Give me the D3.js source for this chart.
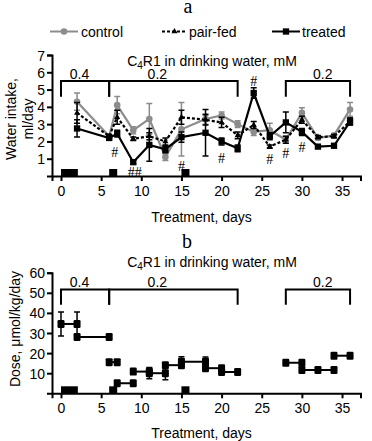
<!DOCTYPE html>
<html>
<head>
<meta charset="utf-8">
<script src="https://cdn.jsdelivr.net/npm/d3@7"></script>
<style>
  body { margin: 0; background: #fff; }
  svg text { font-family: "Liberation Sans", Arial, sans-serif; }
</style>
</head>
<body>
<div id="viz"></div>
<script>
// panel a: water intake
var days = [2, 6, 7, 9, 11, 13, 15, 18, 20, 22, 24, 26, 28, 30, 32, 34, 36];
var control = [4.3, 2.3, 4.1, 2.65, 3.3, 1.1, 2.7, 3.3, 3.5, 3.0, 2.55, 2.65, 2.1, 3.65, 2.2, 2.35, 3.85];
var controlErr = [0.5, 0.1, 0.5, 0.2, 0.9, 0.2, 1.55, 0.3, 0.2, 0.2, 0.2, 0.4, 0.2, 0.3, 0.1, 0.1, 0.4];
var pairFed = [3.65, 2.3, 3.4, 2.15, 2.3, 2.0, 3.4, 3.25, 3.1, 2.35, 2.95, 1.7, 2.1, 3.25, 2.25, 2.3, 3.15];
var pairFedErr = [0.6, 0.1, 0.4, 0.1, 0.2, 0.2, 0.4, 0.3, 0.3, 0.2, 0.2, 0.1, 0.2, 0.2, 0.1, 0.1, 0.2];
var treated = [2.75, 2.2, 2.45, 0.8, 1.8, 1.55, 2.25, 2.5, 2.0, 1.6, 4.8, 2.3, 3.1, 2.55, 1.7, 1.75, 3.15];
var treatedErr = [0.5, 0.1, 0.2, 0.1, 0.95, 0.2, 0.3, 1.35, 0.2, 0.2, 0.3, 0.2, 0.6, 0.2, 0.1, 0.1, 0.2];
var hashDays = [6.7, 9.2, 15, 20, 24, 26, 28, 30];
var hashVals = [1.4, 0.25, 0.6, 1.05, 5.5, 1.0, 1.35, 1.65];
var hashText = ['#', '##', '#', '#', '#', '#', '#', '#'];

// panel b: dose, step segments
var doseFrom = [0, 2, 6, 7, 9, 11, 13, 15, 18, 20, 28, 30, 34];
var doseTo = [2, 6, 7, 9, 11, 13, 15, 18, 20, 22, 30, 34, 36];
var doseVal = [34.5, 28, 15.5, 5, 10.8, 10, 14, 15.7, 12.5, 10.6, 15.2, 11.6, 18.7];
var doseErrDays = [0, 2, 11, 13, 15, 18];
var doseErrVals = [34.5, 34.5, 10, 10, 15.7, 15.7];
var doseErr = [6, 6, 2.8, 3.3, 2.5, 2.3];
var doseMidDays = [32];
var doseMidVals = [11.6];

// exposure periods drawn at the baseline, concentration brackets
var exposureFrom = [0, 6, 15];
var exposureTo = [2.1, 7, 16];
var bracketFrom = [0, 6, 28];
var bracketTo = [6, 22, 36];
var bracketLabel = ['0.4', '0.2', '0.2'];
var bracketLabelDay = [2.3, 12, 32.6];
var xTicks = [0, 5, 10, 15, 20, 25, 30, 35];
var yTicksA = [1, 2, 3, 4, 5, 6, 7];
var yTicksB = [10, 20, 30, 40, 50, 60];

var W = 372, H = 441, gray = '#8c8c8c';
var svg = d3.select('#viz').append('svg').attr('width', W).attr('height', H);

var x = d3.scaleLinear().domain([-1.12, 37.3]).range([52, 360.5]);
var yA = d3.scaleLinear().domain([0, 7]).range([176, 55]);
var yB = d3.scaleLinear().domain([0, 60]).range([393.3, 272.7]);

function axes(y, ticks, base) {
    var gx = svg.append('g').attr('transform', 'translate(0,' + base + ')')
        .call(d3.axisBottom(x).tickValues(xTicks).tickFormat(d3.format('d'))
            .tickSizeOuter(0).tickSize(5).tickPadding(5));
    var gy = svg.append('g').attr('transform', 'translate(52,0)')
        .call(d3.axisLeft(y).tickValues(ticks).tickFormat(d3.format('d'))
            .tickSizeOuter(0).tickSize(5).tickPadding(2));
    [gx, gy].forEach(function (g) {
        g.select('.domain').attr('stroke', '#000').attr('stroke-width', 2);
        g.selectAll('.tick line').attr('stroke', '#000').attr('stroke-width', 2);
        g.selectAll('.tick text').attr('fill', '#000').style('font-size', '14px')
            .style('font-family', '"Liberation Sans", Arial, sans-serif');
    });
    gy.selectAll('.tick text').attr('dy', '0.36em');
}

function brackets(y, top, drop, labelY) {
    bracketFrom.forEach(function (d0, i) {
        var d1 = bracketTo[i];
        svg.append('path')
            .attr('d', 'M' + x(d0) + ',' + y(drop) + 'V' + y(top) + 'H' + x(d1) + 'V' + y(drop))
            .attr('fill', 'none').attr('stroke', '#000').attr('stroke-width', 2);
        svg.append('text').attr('x', x(bracketLabelDay[i])).attr('y', labelY)
            .attr('text-anchor', 'middle').style('font-size', '14px').text(bracketLabel[i]);
    });
}

function exposure(y, base) {
    exposureFrom.forEach(function (d0, i) {
        svg.append('rect').attr('x', x(d0)).attr('y', base - 7)
            .attr('width', x(exposureTo[i]) - x(d0)).attr('height', 7).attr('fill', '#000');
    });
}

function subtitle(yPos) {
    var t = svg.append('text').attr('x', 212).attr('y', yPos).attr('text-anchor', 'middle')
        .style('font-size', '14px');
    t.append('tspan').text('C');
    t.append('tspan').attr('dy', 3).style('font-size', '10px').text('4');
    t.append('tspan').attr('dy', -3).text('R1 in drinking water, mM');
}

function symbolPath(sym) {
    if (sym === 'circle') return d3.symbol(d3.symbolCircle, 34)();
    if (sym === 'triangle') return d3.symbol(d3.symbolTriangle, 16)();
    return d3.symbol(d3.symbolSquare, 40)();
}

// ---------- panel a ----------
svg.append('text').attr('x', 188).attr('y', 13).attr('text-anchor', 'middle')
    .style('font-family', '"Liberation Serif", "Times New Roman", serif').style('font-size', '20px').text('a');

// legend
var legend = [
    {name: 'control', x0: 50, x1: 78, tx: 81, color: gray, dash: null, sym: 'circle'},
    {name: 'pair-fed', x0: 162, x1: 187, tx: 189, color: '#000', dash: '3,2', sym: 'triangle'},
    {name: 'treated', x0: 272, x1: 300, tx: 302, color: '#000', dash: null, sym: 'square'}
];
legend.forEach(function (l) {
    svg.append('line').attr('x1', l.x0).attr('x2', l.x1).attr('y1', 31.5).attr('y2', 31.5)
        .attr('stroke', l.color).attr('stroke-width', 2).attr('stroke-dasharray', l.dash);
    svg.append('path').attr('transform', 'translate(' + ((l.x0 + l.x1) / 2) + ',31.5)')
        .attr('d', symbolPath(l.sym)).attr('fill', l.color);
    svg.append('text').attr('x', l.tx).attr('y', 36.5).style('font-size', '14px').text(l.name);
});

subtitle(66);
brackets(yA, 5.5, 4.58, 78.5);
axes(yA, yTicksA, 176);

var ya = svg.append('text').attr('transform', 'translate(16,119) rotate(-90)')
    .attr('text-anchor', 'middle').style('font-size', '14px');
ya.append('tspan').attr('x', 0).attr('y', 0).text('Water intake,');
ya.append('tspan').attr('x', 0).attr('y', 17).text('ml/day');

svg.append('text').attr('x', x(17.5)).attr('y', 221.5).attr('text-anchor', 'middle')
    .style('font-size', '14px').text('Treatment, days');

exposure(yA, 176);

var series = [
    {vals: control, err: controlErr, color: gray, dash: null, sym: 'circle'},
    {vals: pairFed, err: pairFedErr, color: '#000', dash: '3,2', sym: 'triangle'},
    {vals: treated, err: treatedErr, color: '#000', dash: null, sym: 'square'}
];
series.forEach(function (s) {
    var g = svg.append('g');
    days.forEach(function (d, i) {
        var cx = x(d), lo = yA(s.vals[i] - s.err[i]), hi = yA(s.vals[i] + s.err[i]);
        g.append('path').attr('d', 'M' + cx + ',' + lo + 'V' + hi + 'M' + (cx - 3) + ',' + hi + 'H' + (cx + 3)
                + 'M' + (cx - 3) + ',' + lo + 'H' + (cx + 3))
            .attr('stroke', s.color).attr('stroke-width', 1.5).attr('fill', 'none');
    });
    g.append('path').datum(days)
        .attr('d', d3.line().x(function (d) { return x(d); })
            .y(function (d, i) { return yA(s.vals[i]); }))
        .attr('fill', 'none').attr('stroke', s.color).attr('stroke-width', 2.2)
        .attr('stroke-dasharray', s.dash);
    g.selectAll('.m').data(days).enter().append('path')
        .attr('transform', function (d, i) { return 'translate(' + x(d) + ',' + yA(s.vals[i]) + ')'; })
        .attr('d', symbolPath(s.sym)).attr('fill', s.color);
});

hashDays.forEach(function (d, i) {
    svg.append('text').attr('x', x(d)).attr('y', yA(hashVals[i])).attr('text-anchor', 'middle')
        .attr('dy', '0.35em')
        .style('font-family', '"Liberation Serif", "Times New Roman", serif').style('font-size', '14px')
        .text(hashText[i]);
});

// ---------- panel b ----------
svg.append('text').attr('x', 187).attr('y', 248).attr('text-anchor', 'middle')
    .style('font-family', '"Liberation Serif", "Times New Roman", serif').style('font-size', '20px').text('b');
subtitle(267);
brackets(yB, 51.7, 44, 287);
axes(yB, yTicksB, 393.3);

svg.append('text').attr('transform', 'translate(20,329) rotate(-90)')
    .attr('text-anchor', 'middle').style('font-size', '14px').text('Dose, \u03bcmol/kg/day');
svg.append('text').attr('x', x(17.5)).attr('y', 438).attr('text-anchor', 'middle')
    .style('font-size', '14px').text('Treatment, days');

exposure(yB, 393.3);

var gb = svg.append('g');
doseErrDays.forEach(function (d, i) {
    var cx = x(d), lo = yB(doseErrVals[i] - doseErr[i]), hi = yB(doseErrVals[i] + doseErr[i]);
    gb.append('path').attr('d', 'M' + cx + ',' + lo + 'V' + hi + 'M' + (cx - 3) + ',' + hi + 'H' + (cx + 3)
            + 'M' + (cx - 3) + ',' + lo + 'H' + (cx + 3))
        .attr('stroke', '#000').attr('stroke-width', 1.5).attr('fill', 'none');
});
doseFrom.forEach(function (d0, i) {
    var d1 = doseTo[i], yy = yB(doseVal[i]);
    gb.append('line').attr('x1', x(d0)).attr('x2', x(d1)).attr('y1', yy).attr('y2', yy)
        .attr('stroke', '#000').attr('stroke-width', 2);
    [d0, d1].forEach(function (d) {
        gb.append('rect').attr('x', x(d) - 3.5).attr('y', yy - 4).attr('width', 7).attr('height', 8)
            .attr('rx', 1.2).attr('fill', '#000');
    });
});
doseMidDays.forEach(function (d, i) {
    gb.append('rect').attr('x', x(d) - 3.5).attr('y', yB(doseMidVals[i]) - 4).attr('width', 7).attr('height', 8)
        .attr('rx', 1.2).attr('fill', '#000');
});
</script>
</body>
</html>
